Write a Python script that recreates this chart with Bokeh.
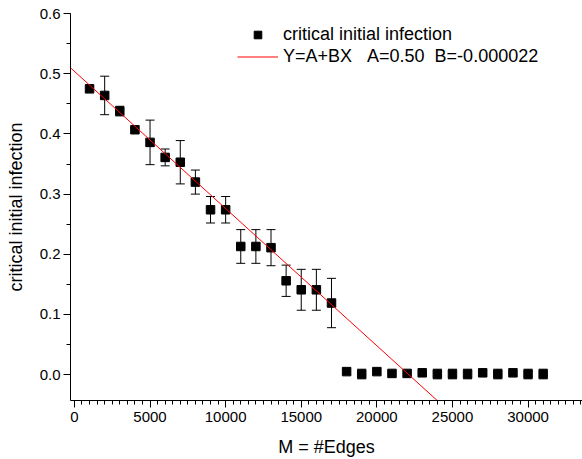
from bokeh.plotting import figure
from bokeh.models import (Range1d, SingleIntervalTicker, PrintfTickFormatter,
                          ColumnDataSource, Whisker, TeeHead, Legend, LegendItem)
from bokeh.embed import file_html
from bokeh.resources import INLINE

# ---- data ----
edges = [1000, 2000, 3000, 4000, 5000, 6000, 7000, 8000, 9000, 10000,
         11000, 12000, 13000, 14000, 15000, 16000, 17000,
         18000, 19000, 20000, 21000, 22000, 23000, 24000, 25000, 26000,
         27000, 28000, 29000, 30000, 31000]
infection = [0.475, 0.464, 0.438, 0.407, 0.386, 0.361, 0.353, 0.320, 0.274, 0.274,
             0.213, 0.213, 0.211, 0.156, 0.141, 0.141, 0.119,
             0.005, 0.001, 0.005, 0.002, 0.002, 0.003, 0.001, 0.001, 0.001,
             0.003, 0.001, 0.003, 0.001, 0.001]
error = [0.0, 0.032, 0.008, 0.0, 0.037, 0.014, 0.036, 0.020, 0.022, 0.022,
         0.028, 0.028, 0.030, 0.026, 0.034, 0.034, 0.041,
         0.0, 0.008, 0.0, 0.0, 0.0, 0.0, 0.008, 0.008, 0.008,
         0.0, 0.008, 0.0, 0.008, 0.008]
fit_A = 0.504
fit_B = -0.0000228
fit_x = [-260, 26000]
legend_labels = ["critical initial infection",
                 "Y=A+BX\u00a0\u00a0\u00a0A=0.50\u00a0\u00a0B=-0.000022"]

FONT = "Liberation Sans"

p = figure(width=582, height=459, output_backend="svg", toolbar_location=None,
           x_range=Range1d(-260, 33600), y_range=Range1d(-0.043, 0.6002),
           min_border_left=70, min_border_right=0, min_border_top=13,
           min_border_bottom=59)
p.outline_line_color = None
p.grid.visible = False
p.background_fill_color = "white"
p.border_fill_color = "white"

# error bars
eb = [(x, y, e) for x, y, e in zip(edges, infection, error) if e > 0]
err_src = ColumnDataSource(dict(x=[t[0] for t in eb],
                                upper=[t[1] + t[2] for t in eb],
                                lower=[t[1] - t[2] for t in eb]))
w = Whisker(source=err_src, base="x", upper="upper", lower="lower",
            line_color="black", line_width=1, level="underlay",
            upper_head=TeeHead(size=9, line_color="black", line_width=1),
            lower_head=TeeHead(size=9, line_color="black", line_width=1))
p.add_layout(w)

pts = p.scatter(edges, infection, marker="square", size=8.5,
                fill_color="black", line_color="black")
fit_y = [fit_A + fit_B * x for x in fit_x]
ln = p.line(fit_x, fit_y, line_color="red", line_width=1)

# axes
p.xaxis.ticker = SingleIntervalTicker(interval=5000, num_minor_ticks=10)
p.yaxis.ticker = SingleIntervalTicker(interval=0.1, num_minor_ticks=2)
p.yaxis.formatter = PrintfTickFormatter(format="%.1f")
p.xaxis.formatter = PrintfTickFormatter(format="%d")
for ax in (p.xaxis, p.yaxis):
    ax.axis_line_color = "black"
    ax.axis_line_width = 1
    ax.major_tick_line_color = "black"
    ax.minor_tick_line_color = "black"
    ax.major_tick_out = 7
    ax.major_tick_in = 0
    ax.minor_tick_out = 4
    ax.minor_tick_in = 0
    ax.major_label_text_font = FONT
    ax.major_label_text_font_size = "15px"
    ax.major_label_text_color = "black"
    ax.axis_label_text_font = FONT
    ax.axis_label_text_font_style = "normal"
    ax.axis_label_text_font_size = "18px"
    ax.axis_label_text_color = "black"
p.xaxis.axis_label = "M = #Edges"
p.yaxis.axis_label = "critical initial infection"
p.xaxis.major_label_standoff = 4
p.yaxis.major_label_standoff = 3
p.xaxis.axis_label_standoff = 12
p.yaxis.axis_label_standoff = 11

legend = Legend(items=[LegendItem(label=legend_labels[0], renderers=[pts]),
                       LegendItem(label=legend_labels[1], renderers=[ln])],
                location=(167, 333), padding=0, margin=0, spacing=1,
                border_line_color=None, background_fill_alpha=0,
                glyph_width=41, glyph_height=19, label_height=19,
                label_standoff=5, label_text_font=FONT,
                label_text_font_size="18px", label_text_color="black")
p.add_layout(legend)

open("out.html", "w").write(file_html(p, INLINE))
